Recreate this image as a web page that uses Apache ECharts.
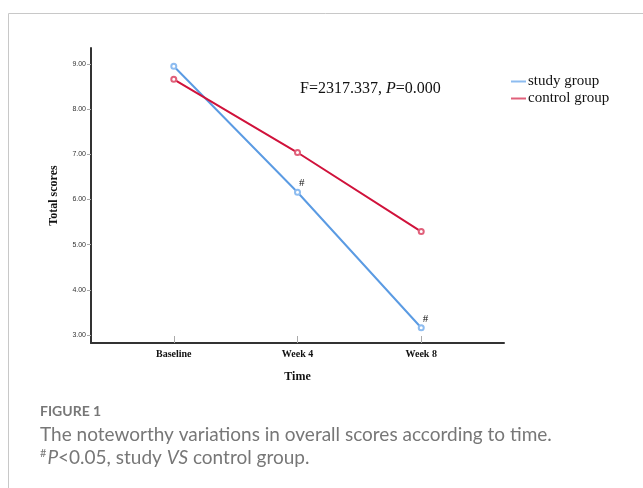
<!DOCTYPE html>
<html><head><meta charset="utf-8">
<script src="https://cdn.jsdelivr.net/npm/echarts@6/dist/echarts.min.js"></script>
<style>html,body{margin:0;padding:0;background:#fff}#c{width:643px;height:488px}</style>
</head><body><div id="c"></div>
<script>
const categories = ['Baseline', 'Week 4', 'Week 8'];
const studyValues = [8.95, 6.16, 3.16];
const controlValues = [8.66, 7.04, 5.29];
const studySig = [false, true, true];
const yTicks = [3, 4, 5, 6, 7, 8, 9];
const xTicks = [0, 1, 2];

const chart = echarts.init(document.getElementById('c'));
const serif = '"Liberation Serif","Times New Roman",serif';
function build(vals, sig) {
  return vals.map((v, i) => {
    const d = { value: [i, v] };
    if (sig && sig[i]) d.label = { show: true };
    return d;
  });
}
chart.setOption({
  animation: false,
  grid: { left: 91, right: 139, top: 48, bottom: 145 },
  legend: {
    left: 506, top: 69, orient: 'vertical', itemGap: 2,
    icon: 'rect', itemWidth: 15, itemHeight: 2,
    textStyle: { fontFamily: serif, fontSize: 15, color: '#111', padding: [0, 0, 0, -3] },
    data: ['study group', 'control group']
  },
  xAxis: {
    type: 'value', min: -0.669, max: 2.669,
    name: 'Time', nameLocation: 'middle', nameGap: 28,
    nameTextStyle: { fontFamily: serif, fontSize: 12, fontWeight: 'bold', color: '#111' },
    axisLine: { onZero: false, lineStyle: { color: '#333', width: 2 } },
    axisTick: { show: true, inside: true, length: 7, customValues: xTicks, lineStyle: { color: '#aaa' } },
    axisLabel: { customValues: xTicks, formatter: v => categories[v], fontFamily: serif, fontSize: 10, fontWeight: 'bold', color: '#111', margin: 6 },
    splitLine: { show: false }
  },
  yAxis: {
    type: 'value', min: 2.823, max: 9.354,
    name: 'Total scores', nameLocation: 'middle', nameGap: 31, nameRotate: 90,
    nameTextStyle: { fontFamily: serif, fontSize: 12, fontWeight: 'bold', color: '#111' },
    axisLine: { show: true, onZero: false, lineStyle: { color: '#333', width: 2 } },
    axisTick: { show: true, length: 4, customValues: yTicks, lineStyle: { color: '#aaa' } },
    axisLabel: { customValues: yTicks, formatter: v => v.toFixed(2), fontFamily: 'Liberation Sans, Arial, sans-serif', fontSize: 7, color: '#333', margin: 5 },
    splitLine: { show: false }
  },
  series: [
    {
      name: 'study group', type: 'line', data: build(studyValues, studySig),
      symbol: 'emptyCircle', symbolSize: 5,
      lineStyle: { color: '#5b9be3', width: 2 },
      itemStyle: { color: '#8dbcf0', borderWidth: 1 },
      color: '#5b9be3',
      label: { show: false, formatter: '#', position: [5, -11], fontFamily: serif, fontSize: 11, color: '#111' }
    },
    {
      name: 'control group', type: 'line', data: build(controlValues, null),
      symbol: 'emptyCircle', symbolSize: 5,
      lineStyle: { color: '#d0123b', width: 2 },
      itemStyle: { color: '#e0607a', borderWidth: 1 },
      color: '#d0123b'
    }
  ],
  graphic: [
    { type: 'line', shape: { x1: 8.5, y1: 13.5, x2: 643, y2: 13.5 }, style: { stroke: '#c8c8c8', lineWidth: 1 } },
    { type: 'line', shape: { x1: 8.5, y1: 13.5, x2: 8.5, y2: 488 }, style: { stroke: '#c8c8c8', lineWidth: 1 } },
    { type: 'text', left: 300, top: 81, style: {
        text: '{n|F=2317.337, }{i|P}{n|=0.000}',
        rich: { n: { fontFamily: serif, fontSize: 16, fill: '#111' }, i: { fontFamily: serif, fontSize: 16, fontStyle: 'italic', fill: '#111' } }
    } },
    { type: 'text', left: 40, top: 404, style: { text: 'FIGURE 1', fontFamily: 'Lato, "Open Sans", sans-serif', fontSize: 14, fontWeight: 'bold', fill: '#777' } },
    { type: 'text', left: 40, top: 425, style: { text: 'The noteworthy variations in overall scores according to time.', fontFamily: 'Lato, "Open Sans", sans-serif', fontSize: 19, fill: '#777' } },
    { type: 'text', left: 40, top: 448, style: {
        text: '{s|#}{i|P}{n|<0.05, study }{i|VS}{n| control group.}',
        rich: {
          s: { fontFamily: 'Lato, sans-serif', fontSize: 11, fill: '#777', verticalAlign: 'top', padding: [0, 1, 8, 0] },
          i: { fontFamily: 'Lato, sans-serif', fontSize: 19, fontStyle: 'italic', fill: '#777' },
          n: { fontFamily: 'Lato, sans-serif', fontSize: 19, fill: '#777' }
        }
    } }
  ]
});
</script></body></html>
